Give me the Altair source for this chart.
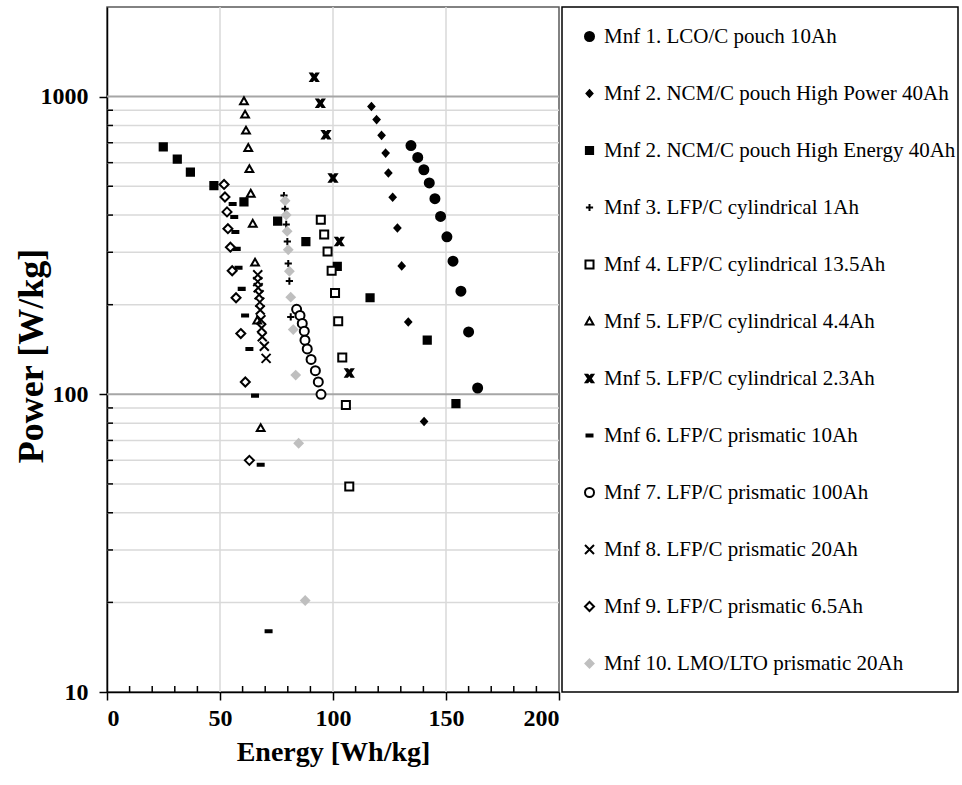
import altair as alt
import pandas as pd

series_names = [
    "Mnf 1. LCO/C pouch 10Ah",
    "Mnf 2. NCM/C pouch High Power 40Ah",
    "Mnf 2. NCM/C pouch High Energy 40Ah",
    "Mnf 3. LFP/C cylindrical 1Ah",
    "Mnf 4. LFP/C cylindrical 13.5Ah",
    "Mnf 5. LFP/C cylindrical 4.4Ah",
    "Mnf 5. LFP/C cylindrical 2.3Ah",
    "Mnf 6. LFP/C prismatic 10Ah",
    "Mnf 7. LFP/C prismatic 100Ah",
    "Mnf 8. LFP/C prismatic 20Ah",
    "Mnf 9. LFP/C prismatic 6.5Ah",
    "Mnf 10. LMO/LTO prismatic 20Ah",
]

s1_energy = [134.5, 137.5, 140.2, 142.6, 145.1, 147.6, 150.4, 153.1, 156.6, 160.0, 164.0]
s1_power = [685, 625, 568, 513, 454, 396, 338, 280, 222, 162, 105]
s2_energy = [117.0, 119.3, 121.5, 123.3, 124.5, 126.4, 128.5, 130.4, 133.3, 140.3]
s2_power = [927, 837, 741, 646, 554, 459, 362, 270, 175, 81]
s3_energy = [24.9, 31.1, 36.9, 47.3, 60.6, 75.5, 88.0, 101.9, 116.4, 141.7, 154.4]
s3_power = [678, 617, 558, 502, 443, 382, 326, 269, 211, 152, 93]
s4_energy = [78.3, 78.8, 79.3, 79.8, 80.2, 80.7, 81.3]
s4_power = [465, 420, 372, 326, 275, 240, 182]
s5_energy = [94.6, 96.1, 97.6, 99.4, 100.9, 102.3, 104.1, 105.7, 107.2]
s5_power = [386, 344, 302, 260, 219, 176, 133, 92, 49]
s6_energy = [60.6, 61.1, 61.5, 62.5, 63.0, 63.6, 64.5, 65.5, 66.5, 68.0]
s6_power = [965, 870, 769, 672, 571, 472, 374, 277, 177, 77]
s7_energy = [91.7, 94.4, 96.9, 100.0, 102.8, 107.2]
s7_power = [1161, 950, 745, 533, 326, 118]
s8_energy = [55.6, 56.3, 56.8, 57.4, 58.2, 59.6, 61.1, 63.0, 65.5, 68.0, 71.5]
s8_power = [436, 394, 351, 308, 266, 226, 184, 142, 99, 58, 16]
s9_energy = [83.9, 85.4, 86.4, 87.3, 87.6, 88.6, 90.3, 92.2, 93.5, 94.7]
s9_power = [193, 184, 173, 163, 152, 142, 131, 120, 110, 100]
s10_energy = [66.7, 66.7, 66.9, 67.3, 67.6, 67.8, 68.1, 68.4, 68.7, 69.6, 70.4]
s10_power = [252, 239, 228, 216, 204, 192, 178, 167, 156, 145, 132]
s11_energy = [51.8, 52.2, 53.1, 53.5, 54.6, 55.4, 57.1, 59.2, 61.2, 63.0]
s11_power = [507, 460, 410, 360, 312, 260, 211, 160, 110, 60]
s12_energy = [78.8, 79.3, 79.7, 80.2, 80.7, 81.3, 82.4, 83.5, 84.8, 87.7]
s12_power = [447, 400, 353, 306, 259, 212, 165, 116, 68.5, 20.3]

x_ticks = [0, 50, 100, 150, 200]
y_ticks = [10, 100, 1000]
y_minor = [20, 30, 40, 50, 60, 70, 80, 90, 200, 300, 400, 500, 600, 700, 800, 900]
y_major_grid = [100, 1000]
x_grid = [50, 100, 150]
x_minor = [10, 20, 30, 40, 60, 70, 80, 90, 110, 120, 130, 140, 160, 170, 180, 190]

energies = [s1_energy, s2_energy, s3_energy, s4_energy, s5_energy, s6_energy,
            s7_energy, s8_energy, s9_energy, s10_energy, s11_energy, s12_energy]
powers = [s1_power, s2_power, s3_power, s4_power, s5_power, s6_power,
          s7_power, s8_power, s9_power, s10_power, s11_power, s12_power]

rows = []
for name, es, ps in zip(series_names, energies, powers):
    for e, p in zip(es, ps):
        rows.append({"series": name, "energy": e, "power": p})
df = pd.DataFrame(rows)

bold_x = ("M-0.62,-0.62L-0.3,-0.62L0,-0.24L0.3,-0.62L0.62,-0.62L0.2,0"
          "L0.62,0.62L0.3,0.62L0,0.24L-0.3,0.62L-0.62,0.62L-0.2,0Z")

shapes = [
    "M0.75,0A0.75,0.75,0,1,1,-0.75,0A0.75,0.75,0,1,1,0.75,0Z",
    "M0,-0.55L0.5,0L0,0.55L-0.5,0Z",
    "M-0.6,-0.6L0.6,-0.6L0.6,0.6L-0.6,0.6Z",
    "M-0.6,0L0.6,0M0,-0.6L0,0.6",
    "M-0.67,-0.67L0.67,-0.67L0.67,0.67L-0.67,0.67Z",
    "M0,-0.65L0.65,0.5L-0.65,0.5Z",
    bold_x,
    "M-0.5,-0.17L0.5,-0.17L0.5,0.17L-0.5,0.17Z",
    "M0.75,0A0.75,0.75,0,1,1,-0.75,0A0.75,0.75,0,1,1,0.75,0Z",
    "M-0.75,-0.75L0.75,0.75M-0.75,0.75L0.75,-0.75",
    "M0,-0.75L0.75,0L0,0.75L-0.75,0Z",
    "M0,-0.67L0.67,0L0,0.67L-0.67,0Z",
]
fills = ["black", "black", "black", "black", "white", "white", "black", "black",
         "white", "black", "white", "#bfbfbf"]
strokes = ["black"] * 11 + ["#bfbfbf"]

W, H = 452, 685
xscale = alt.Scale(domain=[0, 200], nice=False, zero=False)
yscale = alt.Scale(type="log", domain=[10, 2000], nice=False)

x_axis = alt.Axis(values=x_ticks, grid=False, tickSize=8, labelPadding=6,
                  titleX=W / 2, titleY=60, titleBaseline="middle")
y_axis = alt.Axis(values=y_ticks, grid=False, format="d", tickSize=8,
                  labelPadding=11, titleX=-76, titleY=H / 2 + 6,
                  titleBaseline="middle", titleFontSize=36)
x_title = "Energy [Wh/kg]"
y_title = "Power [W/kg]"

grid_x = alt.Chart(pd.DataFrame({"v": x_grid})).mark_rule(
    color="#d9d9d9", strokeWidth=1.5
).encode(x=alt.X("v:Q", scale=xscale, axis=x_axis, title=x_title))

grid_minor = alt.Chart(pd.DataFrame({"v": y_minor})).mark_rule(
    color="#d9d9d9", strokeWidth=1.5
).encode(y=alt.Y("v:Q", scale=yscale, axis=y_axis, title=y_title))

grid_major = alt.Chart(pd.DataFrame({"v": y_major_grid})).mark_rule(
    color="#a6a6a6", strokeWidth=2
).encode(y=alt.Y("v:Q", scale=yscale, axis=y_axis, title=y_title))

ytick_minor = alt.Chart(pd.DataFrame({"v": y_minor})).mark_rule(
    color="black", strokeWidth=1.5
).encode(y=alt.Y("v:Q", scale=yscale, axis=y_axis, title=y_title),
         x=alt.value(0), x2=alt.value(6))

xtick_minor = alt.Chart(pd.DataFrame({"v": x_minor})).mark_rule(
    color="black", strokeWidth=1.5
).encode(x=alt.X("v:Q", scale=xscale, axis=x_axis, title=x_title),
         y=alt.value(H - 6), y2=alt.value(H))

legend_box = alt.Chart(pd.DataFrame({"a": [0]})).mark_rect(
    fill="white", fillOpacity=0, stroke="black", strokeWidth=1.5
).encode(x=alt.value(455), x2=alt.value(851), y=alt.value(0), y2=alt.value(685))

points = alt.Chart(df).mark_point(size=144, opacity=1, strokeWidth=2).encode(
    x=alt.X("energy:Q", scale=xscale, axis=x_axis, title=x_title),
    y=alt.Y("power:Q", scale=yscale, axis=y_axis, title=y_title),
    shape=alt.Shape("series:N", scale=alt.Scale(domain=series_names, range=shapes),
                    title=None),
    fill=alt.Fill("series:N", scale=alt.Scale(domain=series_names, range=fills),
                  title=None),
    stroke=alt.Stroke("series:N", scale=alt.Scale(domain=series_names, range=strokes),
                      title=None),
)

chart = alt.layer(
    grid_x, grid_minor, grid_major, ytick_minor, xtick_minor, legend_box, points
).properties(
    width=W, height=H,
    autosize=alt.AutoSizeParams(type="none"),
    padding={"left": 107, "top": 7, "right": 403, "bottom": 93},
).configure(
    font="Liberation Serif",
).configure_view(
    stroke="#595959", strokeWidth=1.5
).configure_axis(
    domainColor="black", domainWidth=1.5, tickColor="black", tickWidth=1.5,
    labelFont="Liberation Serif", labelFontSize=24, labelFontWeight="bold",
    labelColor="black", titleFont="Liberation Serif", titleFontSize=28,
    titleFontWeight="bold", titleColor="black",
).configure_legend(
    orient="none", legendX=472, legendY=19, padding=0,
    labelFont="Liberation Serif", labelFontSize=21, labelColor="black",
    labelLimit=0, labelOffset=4, rowPadding=35, symbolSize=144,
    symbolStrokeWidth=2, symbolOpacity=1,
)

chart.save("out.html", embed_options={"renderer": "svg", "actions": False})
